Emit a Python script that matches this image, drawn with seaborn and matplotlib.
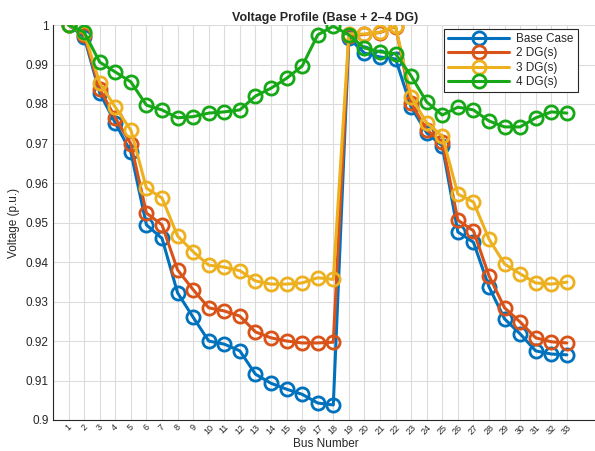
import matplotlib
matplotlib.use("Agg")
import matplotlib.pyplot as plt
import seaborn as sns
import numpy as np
from matplotlib.ticker import FuncFormatter

buses = list(range(1, 34))
base_case = [1.0, 0.997, 0.9828, 0.9752, 0.9678, 0.9494, 0.946, 0.9322, 0.926, 0.920,
             0.9192, 0.9175, 0.9116, 0.9093, 0.9078, 0.9065, 0.9043, 0.9038, 0.9967, 0.9929,
             0.9919, 0.9914, 0.9792, 0.9727, 0.9694, 0.9476, 0.945, 0.9337, 0.9256, 0.9218,
             0.9175, 0.9167, 0.9165]
dg2 = [1.0, 0.9975, 0.9838, 0.9765, 0.9699, 0.9524, 0.9494, 0.938, 0.933, 0.9284,
       0.9276, 0.9263, 0.9223, 0.9208, 0.920, 0.9195, 0.9195, 0.9197, 0.9972, 0.9976,
       0.9981, 0.9996, 0.9802, 0.9734, 0.9704, 0.9506, 0.9479, 0.9365, 0.9284, 0.9248,
       0.9208, 0.9198, 0.9195]
dg3 = [1.0, 0.998, 0.9853, 0.9792, 0.9734, 0.9587, 0.9562, 0.9466, 0.9426, 0.9392,
       0.9387, 0.9378, 0.9352, 0.9344, 0.9344, 0.9347, 0.936, 0.9356, 0.9978, 0.9977,
       0.9982, 0.9997, 0.9818, 0.9752, 0.9719, 0.9572, 0.9552, 0.9458, 0.9395, 0.937,
       0.9347, 0.9344, 0.9349]
dg4 = [1.0, 0.9982, 0.9906, 0.9881, 0.9856, 0.9797, 0.9785, 0.9765, 0.9768, 0.9777,
       0.978, 0.9785, 0.982, 0.984, 0.9865, 0.9896, 0.9975, 0.9997, 0.9975, 0.9942,
       0.9932, 0.9927, 0.9871, 0.9805, 0.9772, 0.9792, 0.9785, 0.9757, 0.9742, 0.9742,
       0.9765, 0.978, 0.9777]
series_names = ["Base Case", "2 DG(s)", "3 DG(s)", "4 DG(s)"]
series_values = [base_case, dg2, dg3, dg4]
colors = ["#0072BD", "#D95319", "#EDB120", "#17A817"]

sns.set_style("white")
plt.rcParams['font.family'] = ['Liberation Sans', 'DejaVu Sans']

fig = plt.figure(figsize=(5.95, 4.51), dpi=100)
ax = fig.add_axes([53/595, 31/451, 545/595, 395/451])

for name, vals, c in zip(series_names, series_values, colors):
    sns.lineplot(x=buses, y=vals, ax=ax, color=c, label=name, marker='o',
                 markersize=9.5, markerfacecolor='none', markeredgecolor=c,
                 markeredgewidth=2.0, linewidth=2.2)

ax.set_xlim(0, 35)
ax.set_ylim(0.9, 1.0)
ax.set_xticks(buses)
ax.set_xticklabels([str(b) for b in buses], rotation=45, fontsize=6.5)
ax.set_yticks(np.round(np.arange(0.9, 1.0001, 0.01), 2))
ax.yaxis.set_major_formatter(FuncFormatter(lambda v, p: f"{v:g}"))
ax.tick_params(axis='y', labelsize=8.5, colors='#262626', direction='in', length=4, width=0.6, pad=3)
ax.tick_params(axis='x', colors='#262626', direction='in', length=4, width=0.6, pad=2)
ax.grid(True, color='#DCDCDC', linewidth=0.8)
for s in ['top', 'right']:
    ax.spines[s].set_visible(False)
for s in ['left', 'bottom']:
    ax.spines[s].set_color('#262626')
    ax.spines[s].set_linewidth(0.8)

ax.set_title("Voltage Profile (Base + 2\u20134 DG)", fontsize=9, fontweight='bold', pad=3)
ax.set_xlabel("Bus Number", fontsize=8.5)
ax.xaxis.set_label_coords(0.5, -0.045)
ax.set_ylabel("Voltage (p.u.)", fontsize=8.5, labelpad=4)

leg = ax.legend(loc='upper right', bbox_to_anchor=(0.963, 0.99), fontsize=8.5,
                frameon=True, fancybox=False, handlelength=5.2, borderpad=0.35,
                labelspacing=0.2, handletextpad=0.6, borderaxespad=0)
leg.get_frame().set_edgecolor('#262626')
leg.get_frame().set_linewidth(0.8)
leg.get_frame().set_alpha(1)

fig.savefig("out.png", dpi=100)
